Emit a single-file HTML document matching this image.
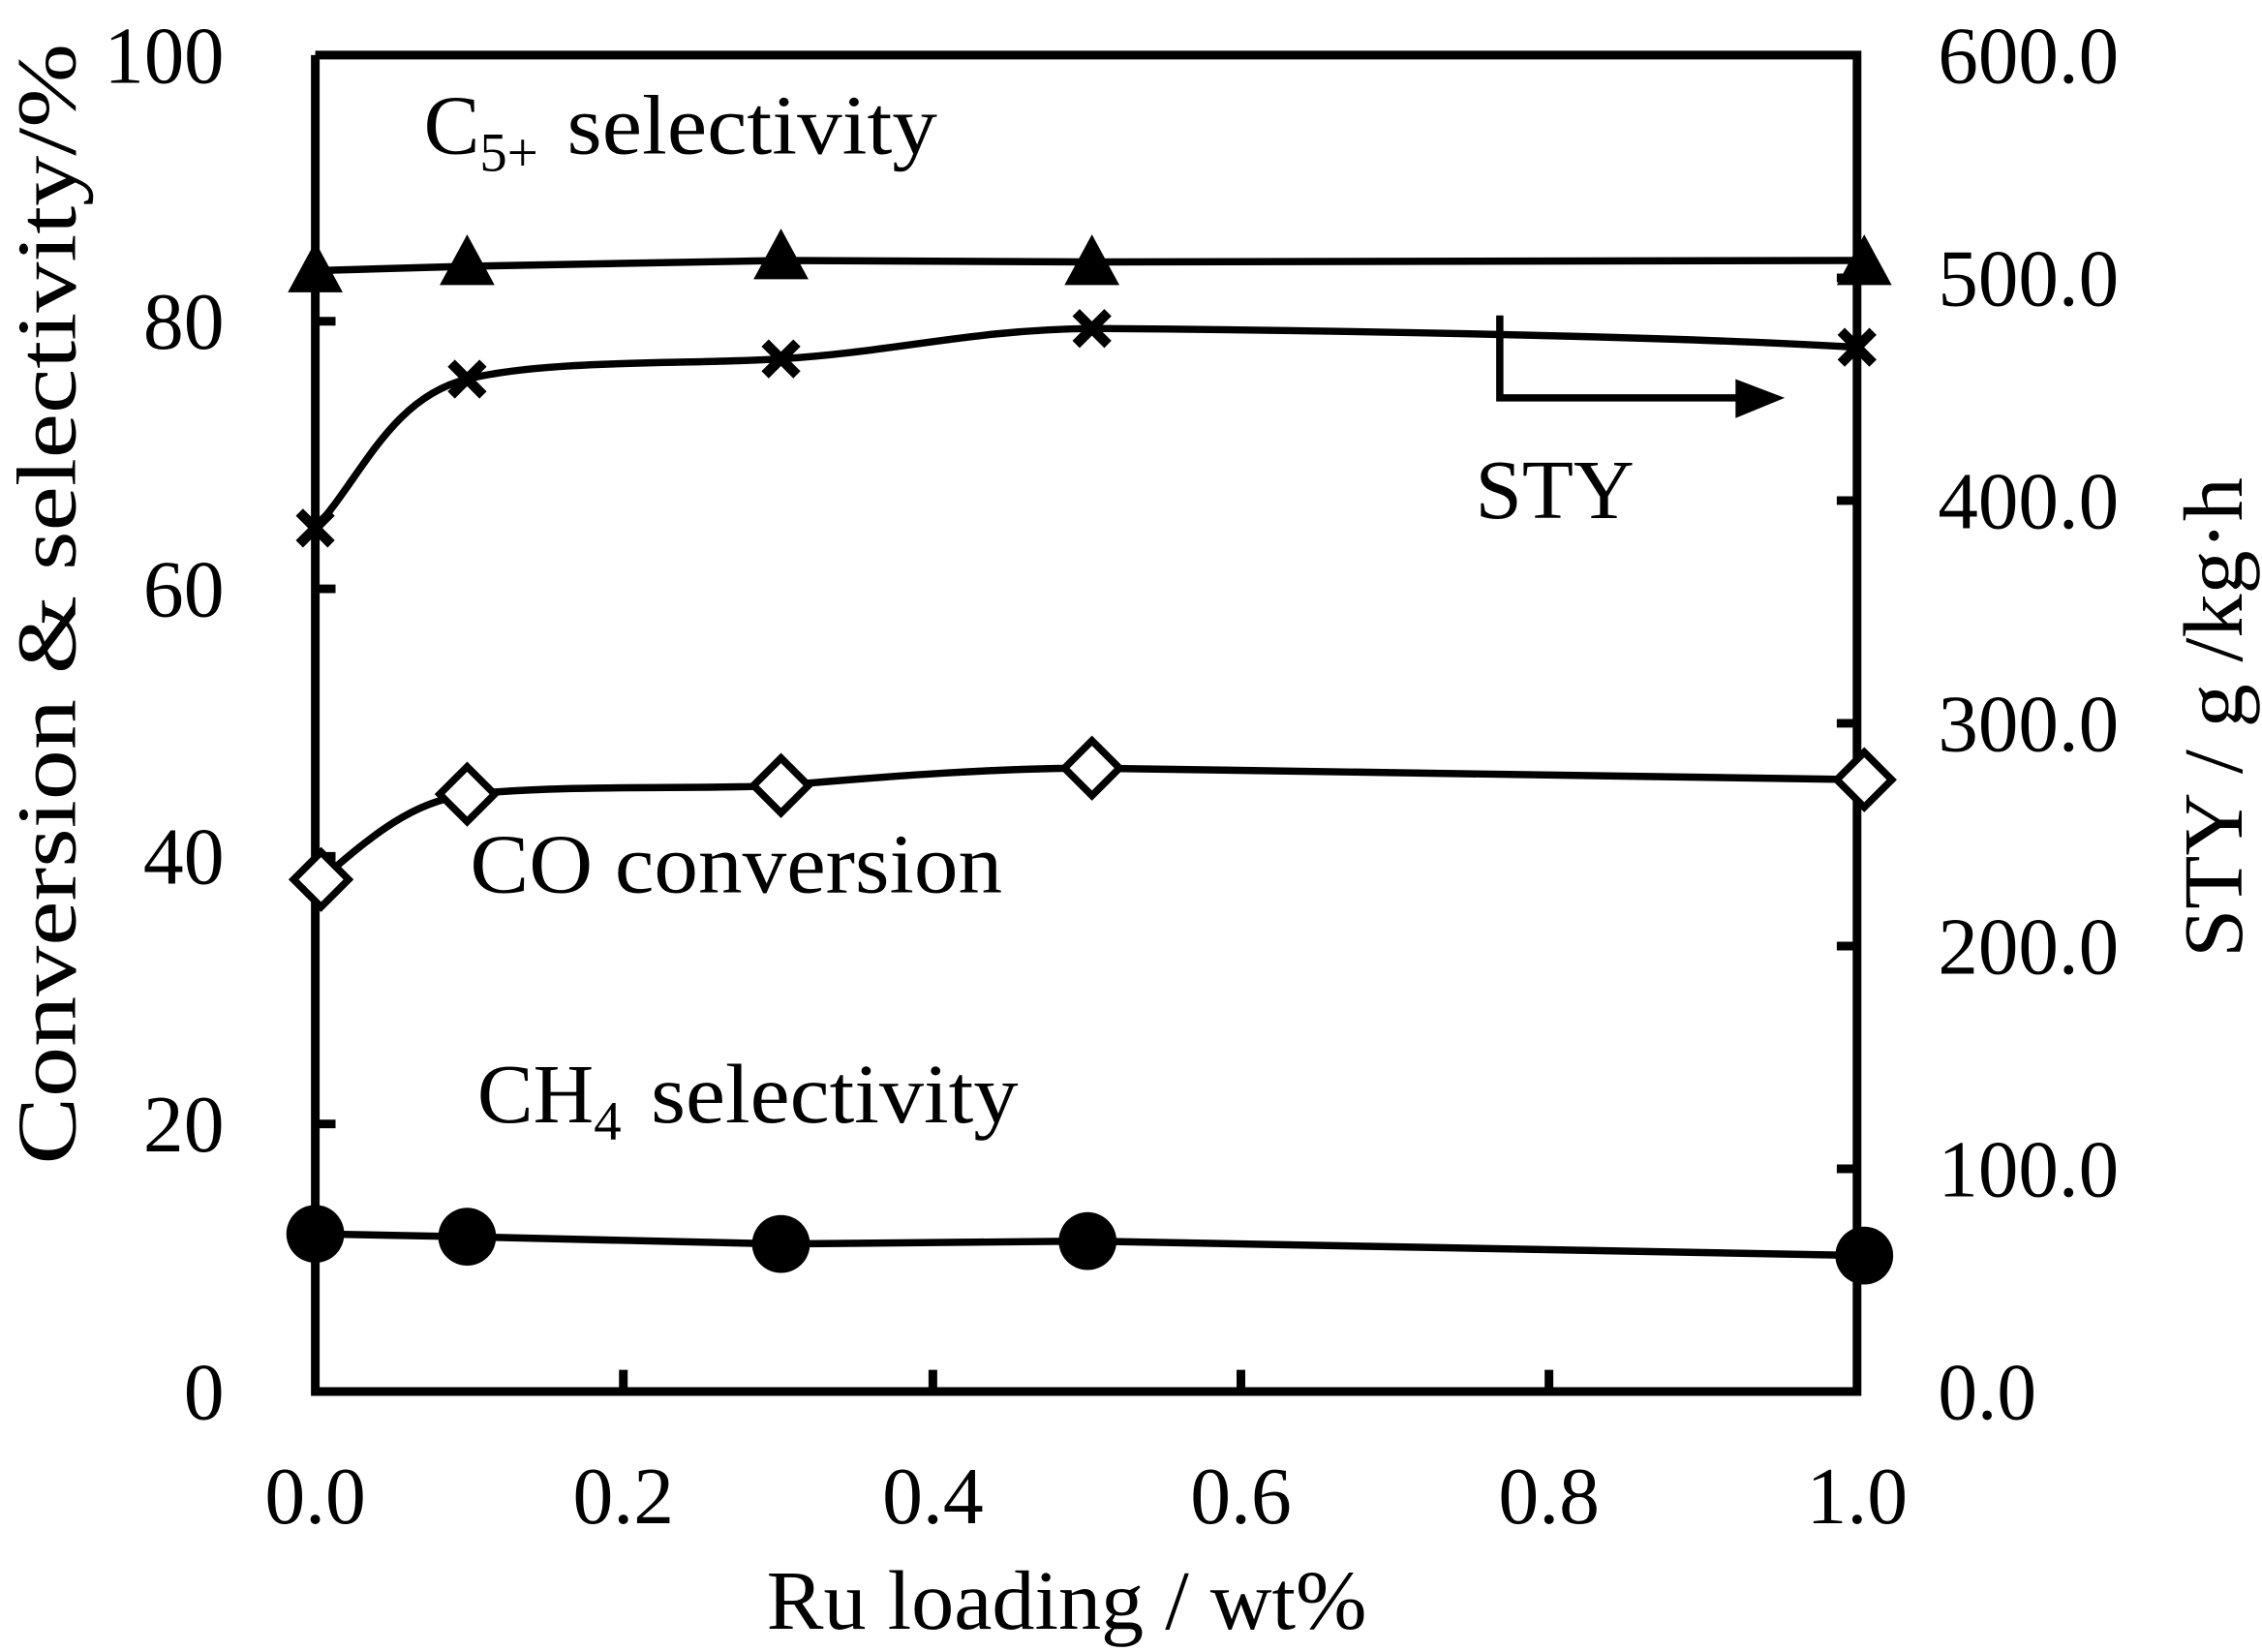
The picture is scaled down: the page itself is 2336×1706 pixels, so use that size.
<!DOCTYPE html>
<html><head><meta charset="utf-8"><style>html,body{margin:0;padding:0;background:#fff}svg{display:block}</style></head>
<body>
<svg width="2336" height="1706" viewBox="0 0 1564 1142" xmlns="http://www.w3.org/2000/svg" font-family="Liberation Serif, serif" fill="#000">
<rect width="1564" height="1142" fill="#fff"/>
<g stroke="#000" stroke-width="6" fill="none">
<path d="M218,38 V962 H1284 V38 H218"/>
<path d="M218,777 h14 M218,592 h14 M218,407 h14 M218,222 h14"/>
<path d="M1284,808 h-14 M1284,654 h-14 M1284,500 h-14 M1284,346 h-14 M1284,192 h-14"/>
<path d="M431,962 v-15 M645,962 v-15 M858,962 v-15 M1071,962 v-15"/>
</g>
<g font-size="56" text-anchor="end">
<text x="155" y="981">0</text><text x="155" y="796">20</text><text x="155" y="611">40</text><text x="155" y="426">60</text><text x="155" y="241">80</text><text x="155" y="57" textLength="83" lengthAdjust="spacingAndGlyphs">100</text>
</g>
<g font-size="56" lengthAdjust="spacingAndGlyphs">
<text x="1340" y="981" textLength="68" lengthAdjust="spacingAndGlyphs">0.0</text>
<text x="1340" y="827" textLength="125" lengthAdjust="spacingAndGlyphs">100.0</text>
<text x="1340" y="673" textLength="125" lengthAdjust="spacingAndGlyphs">200.0</text>
<text x="1340" y="519" textLength="125" lengthAdjust="spacingAndGlyphs">300.0</text>
<text x="1340" y="365" textLength="125" lengthAdjust="spacingAndGlyphs">400.0</text>
<text x="1340" y="211" textLength="125" lengthAdjust="spacingAndGlyphs">500.0</text>
<text x="1340" y="57" textLength="125" lengthAdjust="spacingAndGlyphs">600.0</text>
</g>
<g font-size="56" text-anchor="middle">
<text x="218" y="1053">0.0</text><text x="431" y="1053">0.2</text><text x="645" y="1053">0.4</text><text x="858" y="1053">0.6</text><text x="1071" y="1053">0.8</text><text x="1284" y="1053">1.0</text>
</g>
<g font-size="58">
<text x="530" y="1126" textLength="415" lengthAdjust="spacingAndGlyphs">Ru loading / wt%</text>
<text transform="translate(52,805) rotate(-90)" textLength="775" lengthAdjust="spacingAndGlyphs">Conversion &amp; selectivity/%</text>
<text transform="translate(1550,662) rotate(-90)" textLength="332" lengthAdjust="spacingAndGlyphs">STY / g /kg·h</text>
</g>
<g font-size="58">
<text x="293" y="106">C<tspan font-size="38" dy="12">5+</tspan><tspan dy="-12" x="392" textLength="256" lengthAdjust="spacingAndGlyphs">selectivity</tspan></text>
<text x="1020" y="358" textLength="110" lengthAdjust="spacingAndGlyphs">STY</text>
<text x="325" y="617" textLength="368" lengthAdjust="spacingAndGlyphs">CO conversion</text>
<text x="330" y="776">CH<tspan font-size="38" dy="12">4</tspan><tspan dy="-12" x="450" textLength="254" lengthAdjust="spacingAndGlyphs">selectivity</tspan></text>
</g>
<g stroke="#000" stroke-width="5" fill="none">
<path d="M1037,218 V275 H1205"/>
<path d="M218,187 L323,184 L540,180 L755,181 L1289,180"/>
<path d="M218,365 C250,330 270,275 323,262 C380,248 480,252 540,248 C620,243 670,228 755,227 C900,228 1150,232 1284,240"/>
<path d="M222,608 C260,575 285,555 323,549 C400,542 480,546 540,543 C620,536 690,531 755,531 C1000,533 1150,537 1289,539"/>
<path d="M218,853 L323,855 L540,860 L752,858 L1289,868"/>
</g>
<path d="M1200,262 L1234,275 L1200,289 Z"/>
<g>
<path d="M218,167 l19,35 h-38 Z"/><path d="M323,162 l19,35 h-38 Z"/><path d="M540,158 l19,35 h-38 Z"/><path d="M755,162 l19,35 h-38 Z"/><path d="M1289,162 l19,35 h-38 Z"/>
</g>
<g stroke="#000" stroke-width="7">
<path d="M207,354 l22,22 m0,-22 l-22,22"/><path d="M312,251 l22,22 m0,-22 l-22,22"/><path d="M529,237 l22,22 m0,-22 l-22,22"/><path d="M744,216 l22,22 m0,-22 l-22,22"/><path d="M1273,229 l22,22 m0,-22 l-22,22"/>
</g>
<g stroke="#000" stroke-width="5" fill="#fff">
<path d="M222,589 l19,19 l-19,19 l-19,-19 Z"/><path d="M323,530 l19,19 l-19,19 l-19,-19 Z"/><path d="M540,524 l19,19 l-19,19 l-19,-19 Z"/><path d="M755,512 l19,19 l-19,19 l-19,-19 Z"/><path d="M1289,520 l19,19 l-19,19 l-19,-19 Z"/>
</g>
<g>
<circle cx="218" cy="853" r="20"/><circle cx="323" cy="855" r="20"/><circle cx="540" cy="860" r="20"/><circle cx="752" cy="858" r="20"/><circle cx="1289" cy="868" r="20"/>
</g>
</svg>
</body></html>
